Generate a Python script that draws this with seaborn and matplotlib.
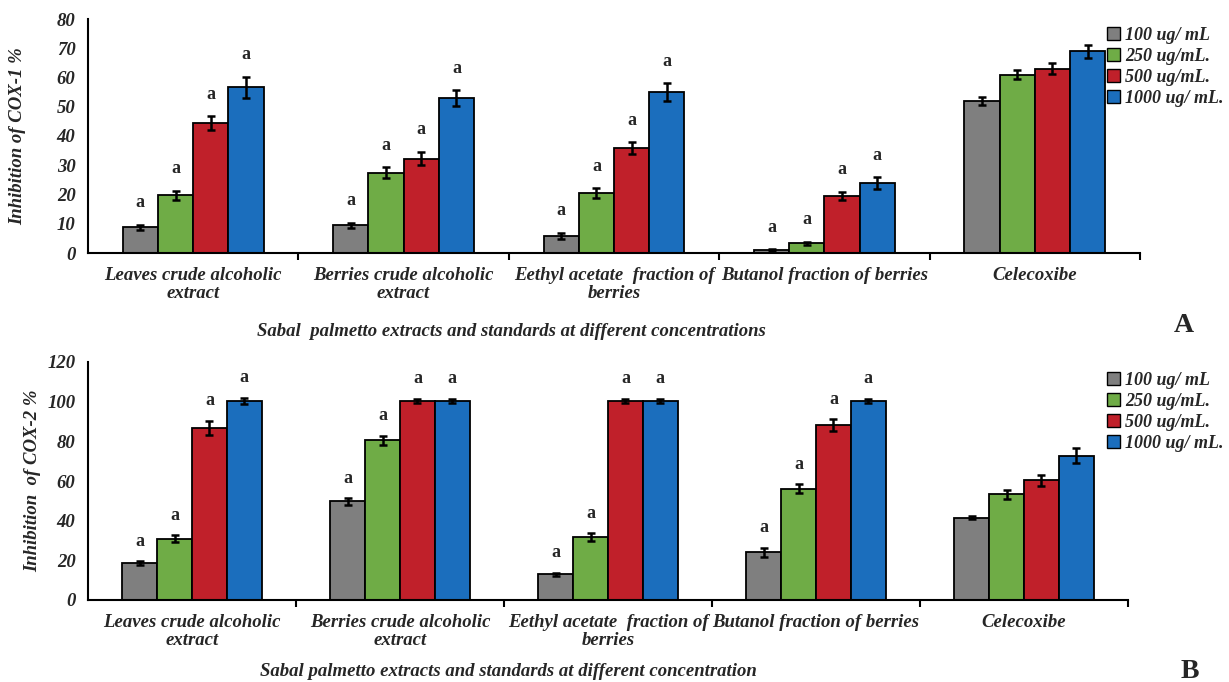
import matplotlib
matplotlib.use("Agg")
import matplotlib.pyplot as plt
import numpy as np
import pandas as pd
import seaborn as sns
from matplotlib.patches import Patch

# ---- data -------------------------------------------------------------
categories = [
    "Leaves crude alcoholic\nextract",
    "Berries crude alcoholic\nextract",
    "Eethyl acetate  fraction of\nberries",
    "Butanol fraction of berries",
    "Celecoxibe",
]
concentrations = ["100 ug/ mL", "250 ug/mL.", "500 ug/mL.", "1000 ug/ mL."]

# COX-1 inhibition (%)
cox1_100 = [8.8, 9.5, 5.9, 0.9, 52.1]
cox1_250 = [19.7, 27.5, 20.5, 3.3, 60.9]
cox1_500 = [44.3, 32.3, 35.8, 19.5, 63.0]
cox1_1000 = [56.6, 53.0, 55.0, 23.9, 68.9]
cox1_err_100 = [0.8, 0.8, 1.0, 0.3, 1.4]
cox1_err_250 = [1.6, 1.9, 1.6, 0.5, 1.5]
cox1_err_500 = [2.4, 2.3, 2.1, 1.5, 1.8]
cox1_err_1000 = [3.6, 2.6, 3.0, 2.1, 2.1]

# COX-2 inhibition (%)
cox2_100 = [18.5, 49.7, 12.9, 24.0, 41.5]
cox2_250 = [31.0, 80.6, 31.9, 56.1, 53.2]
cox2_500 = [86.9, 100.5, 100.5, 88.3, 60.4]
cox2_1000 = [100.5, 100.5, 100.5, 100.5, 72.7]
cox2_err_100 = [1.0, 1.7, 0.8, 2.4, 0.8]
cox2_err_250 = [1.8, 2.2, 1.9, 2.4, 2.2]
cox2_err_500 = [3.6, 1.0, 1.0, 2.9, 2.8]
cox2_err_1000 = [1.5, 1.0, 1.0, 1.0, 3.8]

# significance letters per category (same for every concentration)
sig_letters = ["a", "a", "a", "a", ""]

colors = ["#7f7f7f", "#6fac46", "#c0202a", "#1b6ebd"]

# ---- style ------------------------------------------------------------
sns.set_theme(style="white")
plt.rcParams["font.family"] = ["Liberation Serif", "DejaVu Serif"]
bi = dict(family="Liberation Serif", weight="bold", style="italic")


def long_frame(series):
    rows = []
    for conc, vals in zip(concentrations, series):
        for cat, v in zip(categories, vals):
            rows.append({"category": cat, "conc": conc, "value": v})
    return pd.DataFrame(rows)


def draw_panel(ax, series, errors, ymax, ystep, ylabel, letter_off,
               ylabel_x):
    df = long_frame(series)
    sns.barplot(data=df, x="category", y="value", hue="conc",
                order=categories, hue_order=concentrations,
                palette=colors, saturation=1, width=0.67,
                edgecolor="black", linewidth=1.3, errorbar=None,
                legend=False, ax=ax)
    for cont, errs in zip(ax.containers, errors):
        xs = [b.get_x() + b.get_width() / 2 for b in cont]
        hs = [b.get_height() for b in cont]
        ax.errorbar(xs, hs, yerr=errs, fmt="none", ecolor="black",
                    elinewidth=1.8, capsize=3, capthick=1.8, zorder=5)
        for x, h, e, s in zip(xs, hs, errs, sig_letters):
            if s:
                ax.text(x, h + e + letter_off, s, ha="center", va="center",
                        fontsize=13, fontweight="bold",
                        family="Liberation Serif")

    ax.set_xlim(-0.5, len(categories) - 0.5)
    ax.set_ylim(0, ymax)
    ticks = np.arange(0, ymax + 1, ystep)
    ax.set_yticks(ticks)
    ax.set_yticklabels([str(int(v)) for v in ticks], fontsize=13.5, **bi)
    ax.set_xticks(range(len(categories)))
    ax.set_xticklabels(categories, fontsize=13.5, linespacing=1.1, **bi)
    ax.tick_params(axis="x", which="major", length=0, pad=10)
    ax.tick_params(axis="y", length=0, pad=9)
    ax.set_xticks(np.arange(0.5, len(categories), 1.0), minor=True)
    ax.tick_params(axis="x", which="minor", length=5, width=1.5,
                   direction="out", color="black", bottom=True)
    ax.set_xlabel("")
    ax.set_ylabel("")
    for side in ["top", "right"]:
        ax.spines[side].set_visible(False)
    for side in ["left", "bottom"]:
        ax.spines[side].set_color("black")
        ax.spines[side].set_linewidth(1.5)
    ax.text(ylabel_x, 0.5, ylabel, transform=ax.transAxes, rotation=90,
            ha="center", va="center", fontsize=13.5, **bi)


fig = plt.figure(figsize=(12.29, 6.82), dpi=100)
W, H = 1229.0, 682.0

ax1 = fig.add_axes([88 / W, 1 - 253 / H, (1140 - 88) / W, (253 - 19) / H])
ax2 = fig.add_axes([88 / W, 1 - 600 / H, (1128 - 88) / W, (600 - 362) / H])

draw_panel(ax1,
           [cox1_100, cox1_250, cox1_500, cox1_1000],
           [cox1_err_100, cox1_err_250, cox1_err_500, cox1_err_1000],
           80, 10, "Inhibition of COX-1 %", 7.5, -0.067)
draw_panel(ax2,
           [cox2_100, cox2_250, cox2_500, cox2_1000],
           [cox2_err_100, cox2_err_250, cox2_err_500, cox2_err_1000],
           120, 20, "Inhibition  of COX-2 %", 10, -0.053)

fig.text(511 / W, 1 - 331 / H,
         "Sabal  palmetto extracts and standards at different concentrations",
         ha="center", va="center", fontsize=13.5, **bi)
fig.text(508 / W, 1 - 672 / H,
         "Sabal palmetto extracts and standards at different concentration",
         ha="center", va="center", fontsize=13.5, **bi)

fig.text(1184 / W, 1 - 325 / H, "A", ha="center", va="center",
         fontsize=20, fontweight="bold", family="Liberation Serif")
fig.text(1190 / W, 1 - 671 / H, "B", ha="center", va="center",
         fontsize=20, fontweight="bold", family="Liberation Serif")

handles = [Patch(facecolor=c, edgecolor="black", linewidth=1.0)
           for c in colors]
legend_font = dict(family="Liberation Serif", weight="bold", style="italic",
                   size=13)
for top in (27, 372):
    fig.legend(handles, concentrations, loc="upper left",
               bbox_to_anchor=(1107 / W, 1 - top / H), frameon=False,
               prop=legend_font, handlelength=0.7, handleheight=0.7,
               handletextpad=0.3, labelspacing=0.22, borderpad=0.0,
               borderaxespad=0.0)

fig.savefig("out.png", dpi=100)
